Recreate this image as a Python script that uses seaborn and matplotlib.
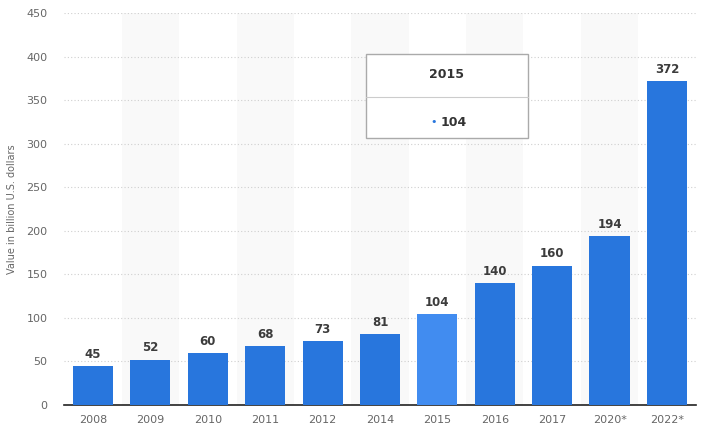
import matplotlib.pyplot as plt
import pandas as pd
import seaborn as sns
from matplotlib.patches import Rectangle

years = ["2008", "2009", "2010", "2011", "2012", "2014", "2015", "2016", "2017", "2020*", "2022*"]
values = [45, 52, 60, 68, 73, 81, 104, 140, 160, 194, 372]
highlight = "2015"

df = pd.DataFrame({"year": years, "value": values})

sns.set_style("white")
plt.rcParams["font.family"] = ["DejaVu Sans"]

fig = plt.figure(figsize=(7.13, 4.34), dpi=100)
ax = fig.add_axes([0.0902, 0.0668, 0.8855, 0.9032])

# 交互の背景帯
for i in range(len(years)):
    if i % 2 == 1:
        ax.axvspan(i - 0.5, i + 0.5, color="#f9f9f9", zorder=0, linewidth=0)

palette = {y: ("#418cf0" if y == highlight else "#2876dd") for y in years}
sns.barplot(data=df, x="year", y="value", hue="year", palette=palette,
            width=0.7, legend=False, ax=ax, zorder=3, saturation=1, linewidth=0)

for i, v in enumerate(values):
    ax.text(i, v + 6, str(v), ha="center", va="bottom", fontsize=8.5,
            fontweight="bold", color="#3c3c3c", zorder=4)

ax.set_xlim(-0.5, len(years) - 0.5)
ax.set_ylim(0, 450)
ax.set_yticks(range(0, 451, 50))
ax.yaxis.grid(True, linestyle=(0, (1, 2)), color="#cfcfcf", linewidth=0.8, zorder=1)
ax.set_axisbelow(True)
for s in ["top", "right", "left"]:
    ax.spines[s].set_visible(False)
ax.spines["bottom"].set_color("#222222")
ax.spines["bottom"].set_linewidth(1.2)
ax.tick_params(axis="both", length=0, labelsize=8, labelcolor="#666666")
ax.tick_params(axis="y", pad=12)
ax.tick_params(axis="x", pad=7)
ax.set_xlabel("")
ax.set_ylabel("Value in billion U.S. dollars", fontsize=7, color="#666666")
ax.yaxis.set_label_coords(-0.075, 0.5)

# ツールチップ
W, H = 713, 434
x0, x1, y0, y1 = 366, 528, 54, 138
fig.patches.append(Rectangle((x0 / W, 1 - y1 / H), (x1 - x0) / W, (y1 - y0) / H,
                             transform=fig.transFigure, facecolor="white",
                             edgecolor="#aaaaaa", linewidth=1, zorder=10))
fig.lines.append(plt.Line2D([x0 / W, x1 / W], [1 - 97 / H, 1 - 97 / H],
                            transform=fig.transFigure, color="#cccccc",
                            linewidth=0.8, zorder=11))
fig.text((x0 + x1) / 2 / W, 1 - 75 / H, highlight, ha="center", va="center",
         fontsize=9, fontweight="bold", color="#333333", zorder=12)
fig.text(434 / W, 1 - 122 / H, "•", ha="center", va="center",
         fontsize=8, color="#2876dd", zorder=12)
fig.text(441 / W, 1 - 122 / H, str(values[years.index(highlight)]), ha="left",
         va="center", fontsize=9, fontweight="bold", color="#333333", zorder=12)

fig.savefig("out.png", dpi=100)
